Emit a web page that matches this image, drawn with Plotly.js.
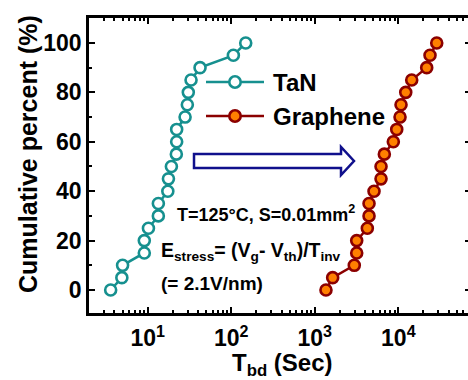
<!DOCTYPE html>
<html>
<head>
<meta charset="utf-8">
<script src="https://cdn.plot.ly/plotly-3.0.1.min.js"></script>
<style>
html,body{margin:0;padding:0;overflow:hidden;background:#fff;width:468px;height:380px;}
#chart{width:480px;height:380px;}
</style>
</head>
<body>
<div id="chart"></div>
<script>
// cumulative percent levels
var percent = [0, 5, 10, 15, 20, 25, 30, 35, 40, 45, 50, 55, 60, 65, 70, 75, 80, 85, 90, 95, 100];
// breakdown times (s)
var tanTbd = [3.6, 4.9, 5.0, 9.1, 9.1, 10.2, 13.4, 13.4, 17.4, 17.7, 19.2, 22.0, 22.2, 22.2, 28.0, 29.8, 30.6, 33.0, 42.3, 106, 149];
var grapheneTbd = [1361, 1637, 2970, 3175, 3175, 4256, 4459, 4459, 5117, 6208, 6208, 6800, 8710, 9570, 10480, 10770, 12270, 14460, 21860, 23950, 28820];
var seriesNames = ['TaN', 'Graphene'];
var xTickVals = [10, 100, 1000, 10000];
var xTickText = ['10<sup>1</sup>', '10<sup>2</sup>', '10<sup>3</sup>', '10<sup>4</sup>'];
var yTickVals = [0, 20, 40, 60, 80, 100];

var teal = '#16908f';
var orange = '#ff8000';
var darkRed = '#8b0000';
var navy = '#10108c';
var FONT = 'Liberation Sans, Arial, sans-serif';

// plot box in pixels (for placing decorations)
var L = 89, R = 471, T = 18, B = 313;
function px(x){ return (x - L) / (R - L); }
function py(y){ return (B - y) / (B - T); }

var traces = [
  {
    x: tanTbd, y: percent, name: seriesNames[0], type: 'scatter', mode: 'lines+markers',
    line: {color: teal, width: 2.5},
    marker: {symbol: 'circle', size: 11, color: '#ffffff', line: {color: teal, width: 2.6}},
    showlegend: false
  },
  {
    x: grapheneTbd, y: percent, name: seriesNames[1], type: 'scatter', mode: 'lines+markers',
    line: {color: darkRed, width: 2.5},
    marker: {symbol: 'circle', size: 11, color: orange, line: {color: darkRed, width: 2.6}},
    showlegend: false
  }
];

var axisCommon = {
  showgrid: false, zeroline: false, showline: true, linecolor: '#000', linewidth: 2.5,
  mirror: 'ticks', ticks: 'inside', ticklen: 6, tickwidth: 2, tickcolor: '#000',
  tickfont: {family: FONT, size: 23, color: '#000', weight: 'bold'}
};

var xaxis = Object.assign({}, axisCommon, {
  type: 'log', range: [0.297, 4.87],
  tickmode: 'array', tickvals: xTickVals, ticktext: xTickText, ticklabelstandoff: 3,
  minor: {ticks: 'inside', ticklen: 3.5, tickwidth: 1.5, tickcolor: '#000', dtick: 'D1', showgrid: false}
});
var yaxis = Object.assign({}, axisCommon, {
  range: [-9.3, 110.1], tickmode: 'array', tickvals: yTickVals,
  minor: {ticks: 'inside', ticklen: 3.5, tickwidth: 1.5, tickcolor: '#000', dtick: 10, tick0: 0, showgrid: false}
});

var legendRows = [
  {y: 82, name: seriesNames[0], line: teal, fill: '#ffffff'},
  {y: 116, name: seriesNames[1], line: darkRed, fill: orange}
];

var shapes = [];
var annotations = [];
legendRows.forEach(function(r){
  shapes.push({type: 'line', xref: 'paper', yref: 'paper', x0: px(206), x1: px(264), y0: py(r.y), y1: py(r.y),
    line: {color: r.line, width: 2.5}});
  shapes.push({type: 'circle', xref: 'paper', yref: 'paper', xsizemode: 'pixel', ysizemode: 'pixel',
    xanchor: px(235), yanchor: py(r.y), x0: -5.7, x1: 5.7, y0: -5.7, y1: 5.7,
    fillcolor: r.fill, line: {color: r.line, width: 2.6}});
  annotations.push({xref: 'paper', yref: 'paper', x: px(271), y: py(r.y), xanchor: 'left', yanchor: 'middle',
    text: r.name, showarrow: false, font: {family: FONT, size: 24, color: '#000', weight: 'bold'}});
});

// hollow arrow
var arrowPts = [[194,154],[341,154],[341,147],[354,161],[341,175],[341,168],[194,168]];
var path = arrowPts.map(function(p, i){ return (i ? 'L' : 'M') + px(p[0]).toFixed(4) + ',' + py(p[1]).toFixed(4); }).join(' ') + ' Z';
shapes.push({type: 'path', xref: 'paper', yref: 'paper', path: path, fillcolor: '#ffffff', line: {color: navy, width: 2.5}});

annotations.push({xref: 'paper', yref: 'paper', x: px(175), y: py(213), xanchor: 'left', yanchor: 'middle',
  text: 'T=125°C, S=0.01mm<sup>2</sup>', showarrow: false, font: {family: FONT, size: 18, color: '#000', weight: 'bold'}});
annotations.push({xref: 'paper', yref: 'paper', x: px(159), y: py(251), xanchor: 'left', yanchor: 'middle',
  text: 'E<sub>stress</sub>= (V<sub>g</sub>- V<sub>th</sub>)/T<sub>inv</sub>', showarrow: false, font: {family: FONT, size: 19.5, color: '#000', weight: 'bold'}});
annotations.push({xref: 'paper', yref: 'paper', x: px(159), y: py(283), xanchor: 'left', yanchor: 'middle',
  text: '(= 2.1V/nm)', showarrow: false, font: {family: FONT, size: 19, color: '#000', weight: 'bold'}});
// axis titles
annotations.push({xref: 'paper', yref: 'paper', x: px(28), y: py(154), xanchor: 'center', yanchor: 'middle', textangle: -90,
  text: 'Cumulative percent (%)', showarrow: false, font: {family: FONT, size: 25, color: '#000', weight: 'bold'}});
annotations.push({xref: 'paper', yref: 'paper', x: px(282), y: py(364), xanchor: 'center', yanchor: 'middle',
  text: 'T<sub>bd</sub> (Sec)', showarrow: false, font: {family: FONT, size: 24, color: '#000', weight: 'bold'}});

var layout = {
  width: 480, height: 380,
  margin: {l: L, r: 480 - R, t: T, b: 380 - B, pad: 0},
  paper_bgcolor: '#fff', plot_bgcolor: '#fff',
  xaxis: xaxis, yaxis: yaxis,
  showlegend: false,
  shapes: shapes, annotations: annotations,
  font: {family: FONT, color: '#000'}
};

Plotly.newPlot('chart', traces, layout, {displayModeBar: false});
</script>
</body>
</html>
